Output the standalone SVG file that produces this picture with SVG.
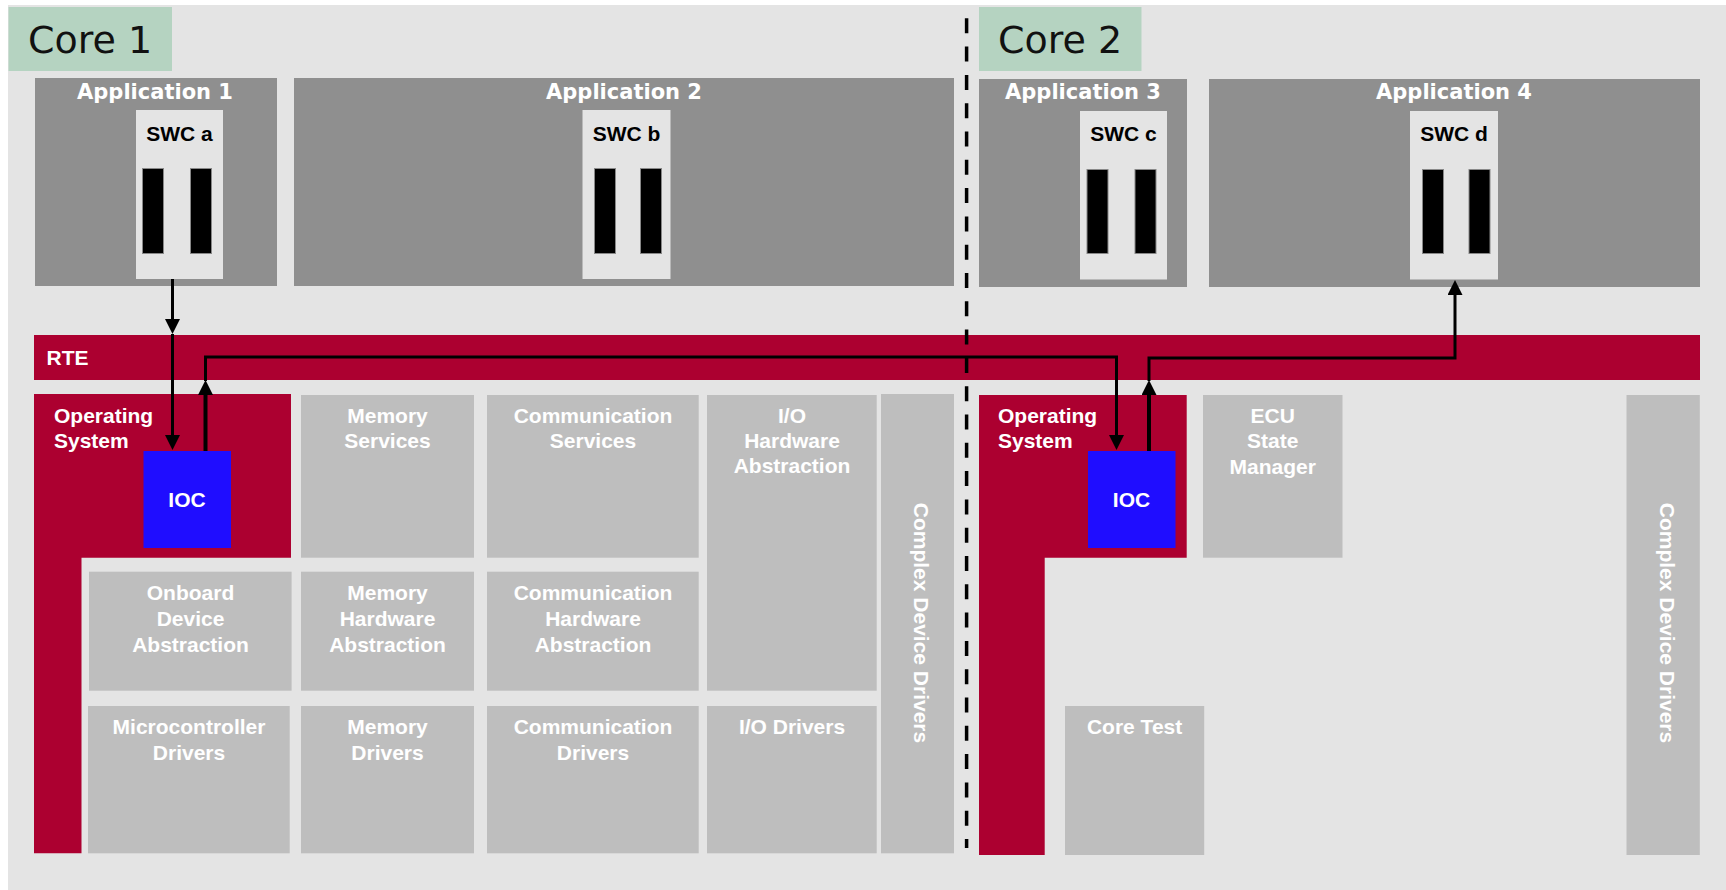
<svg xmlns="http://www.w3.org/2000/svg" width="1726" height="890" viewBox="0 0 1726 890">
<style>
.bg{fill:#e4e4e4}
.core{fill:#b5d3c1}
.coret{font-family:"DejaVu Sans",Verdana,sans-serif;font-size:38px;fill:#111}
.app{fill:#8f8f8f}
.appt{font-family:"DejaVu Sans",Verdana,sans-serif;font-weight:bold;font-size:21px;fill:#fff;text-anchor:middle}
.swc{fill:#e4e4e4}
.swct{font-family:"Liberation Sans",Arial,sans-serif;font-weight:bold;font-size:21px;fill:#000;text-anchor:middle}
.bar{fill:#000;stroke:#888;stroke-width:1}
.red{fill:#ac0030}
.mod{fill:#bebebe}
.lbl{font-family:"Liberation Sans",Arial,sans-serif;font-weight:bold;font-size:21px;fill:#fff;text-anchor:middle}
.lbll{font-family:"Liberation Sans",Arial,sans-serif;font-weight:bold;font-size:21px;fill:#fff}
.ioc{fill:#1f0dff}
.conn{fill:none;stroke:#000;stroke-width:3}
.thick{stroke-width:4}
</style>
<defs>
<marker id="arr" markerUnits="userSpaceOnUse" markerWidth="15" markerHeight="15" refX="5" refY="7.5" orient="auto">
<path d="M0,0 L15,7.5 L0,15 z" fill="#000"/>
</marker>
</defs>
<rect class="bg" x="8" y="5" width="1718" height="885"/>

<g id="core1-label"><rect class="core" x="8.5" y="7" width="163.5" height="64"/><text class="coret" x="28" y="53">Core 1</text></g>
<g id="core2-label"><rect class="core" x="979" y="7" width="162.5" height="64"/><text class="coret" x="998" y="53">Core 2</text></g>

<g id="app1"><rect class="app" x="35" y="78" width="242" height="208"/><text class="appt" x="155" y="99">Application 1</text></g>
<g id="app2"><rect class="app" x="294" y="78" width="660" height="208"/><text class="appt" x="624" y="99">Application 2</text></g>
<g id="app3"><rect class="app" x="979" y="79" width="208" height="208"/><text class="appt" x="1083" y="99">Application 3</text></g>
<g id="app4"><rect class="app" x="1209" y="79" width="491" height="208"/><text class="appt" x="1454" y="99">Application 4</text></g>

<g id="swc-a"><rect class="swc" x="136" y="110" width="87" height="169"/><text class="swct" x="179.5" y="141">SWC a</text><rect class="bar" x="142.5" y="168.5" width="21" height="85"/><rect class="bar" x="190.5" y="168.5" width="21" height="85"/></g>
<g id="swc-b"><rect class="swc" x="582.5" y="110" width="88" height="169"/><text class="swct" x="626.5" y="141">SWC b</text><rect class="bar" x="594.5" y="168.5" width="21" height="85"/><rect class="bar" x="640.5" y="168.5" width="21" height="85"/></g>
<g id="swc-c"><rect class="swc" x="1080" y="111" width="87" height="168.5"/><text class="swct" x="1123.5" y="141">SWC c</text><rect class="bar" x="1087" y="169.5" width="21" height="84"/><rect class="bar" x="1135" y="169.5" width="21" height="84"/></g>
<g id="swc-d"><rect class="swc" x="1410" y="111" width="88" height="168.5"/><text class="swct" x="1454" y="141">SWC d</text><rect class="bar" x="1422.5" y="169.5" width="21" height="84"/><rect class="bar" x="1469" y="169.5" width="21" height="84"/></g>

<g id="rte"><rect class="red" x="34" y="335" width="1666" height="45"/><text class="lbll" x="46.5" y="365" font-size="20">RTE</text></g>

<g id="os1"><path class="red" d="M34,394 H291 V557.7 H81.5 V853.3 H34 Z"/><text class="lbll" x="54" y="423.3">Operating</text><text class="lbll" x="54" y="448.3">System</text></g>
<g id="ioc1"><rect class="ioc" x="143.5" y="451" width="87.5" height="97"/><text class="lbl" x="187" y="507">IOC</text></g>

<g id="mem-services"><rect class="mod" x="301" y="395" width="173" height="162.7"/><text class="lbl" x="387.5" y="423.3">Memory</text><text class="lbl" x="387.5" y="448.3">Services</text></g>
<g id="com-services"><rect class="mod" x="487" y="395" width="211.7" height="162.7"/><text class="lbl" x="593" y="423.3">Communication</text><text class="lbl" x="593" y="448.3">Services</text></g>
<g id="io-hw-abs"><rect class="mod" x="707" y="395" width="169.7" height="295.7"/><text class="lbl" x="792" y="423.3">I/O</text><text class="lbl" x="792" y="448.3">Hardware</text><text class="lbl" x="792" y="473.3">Abstraction</text></g>
<g id="cdd1"><rect class="mod" x="881" y="394" width="73" height="459.3"/><text class="lbl" transform="translate(921,623) rotate(90)" x="0" y="7.5">Complex Device Drivers</text></g>

<g id="onboard-abs"><rect class="mod" x="89" y="571.7" width="202.6" height="119"/><text class="lbl" x="190.5" y="600">Onboard</text><text class="lbl" x="190.5" y="625.7">Device</text><text class="lbl" x="190.5" y="651.5">Abstraction</text></g>
<g id="mem-hw-abs"><rect class="mod" x="301" y="571.7" width="173" height="119"/><text class="lbl" x="387.5" y="600">Memory</text><text class="lbl" x="387.5" y="625.7">Hardware</text><text class="lbl" x="387.5" y="651.5">Abstraction</text></g>
<g id="com-hw-abs"><rect class="mod" x="487" y="571.7" width="211.7" height="119"/><text class="lbl" x="593" y="600">Communication</text><text class="lbl" x="593" y="625.7">Hardware</text><text class="lbl" x="593" y="651.5">Abstraction</text></g>

<g id="mcu-drv"><rect class="mod" x="88" y="706" width="201.7" height="147.3"/><text class="lbl" x="189" y="734">Microcontroller</text><text class="lbl" x="189" y="760">Drivers</text></g>
<g id="mem-drv"><rect class="mod" x="301" y="706" width="173" height="147.3"/><text class="lbl" x="387.5" y="734">Memory</text><text class="lbl" x="387.5" y="760">Drivers</text></g>
<g id="com-drv"><rect class="mod" x="487" y="706" width="211.7" height="147.3"/><text class="lbl" x="593" y="734">Communication</text><text class="lbl" x="593" y="760">Drivers</text></g>
<g id="io-drv"><rect class="mod" x="707" y="706" width="169.7" height="147.3"/><text class="lbl" x="792" y="734">I/O Drivers</text></g>

<g id="os2"><path class="red" d="M979,395 H1186.7 V557.7 H1044.7 V855 H979 Z"/><text class="lbll" x="998" y="423.3">Operating</text><text class="lbll" x="998" y="448.3">System</text></g>
<g id="ioc2"><rect class="ioc" x="1088" y="451" width="87.5" height="97"/><text class="lbl" x="1131.5" y="507">IOC</text></g>
<g id="ecu-sm"><rect class="mod" x="1203" y="395" width="139.5" height="162.7"/><text class="lbl" x="1272.7" y="423.3">ECU</text><text class="lbl" x="1272.7" y="448.3">State</text><text class="lbl" x="1272.7" y="473.5">Manager</text></g>
<g id="core-test"><rect class="mod" x="1065" y="706" width="139.2" height="149"/><text class="lbl" x="1134.6" y="734">Core Test</text></g>
<g id="cdd2"><rect class="mod" x="1626.5" y="395" width="73.3" height="460"/><text class="lbl" transform="translate(1667,623) rotate(90)" x="0" y="7.5">Complex Device Drivers</text></g>

<g id="connectors">
<line x1="966.6" y1="18.3" x2="966.6" y2="848" stroke="#000" stroke-width="3.5" stroke-dasharray="15 13.3"/>
<line class="conn" x1="172.5" y1="279" x2="172.5" y2="324" marker-end="url(#arr)"/>
<line class="conn" x1="172.5" y1="334" x2="172.5" y2="440" marker-end="url(#arr)"/>
<line class="conn thick" x1="205.5" y1="451" x2="205.5" y2="390" marker-end="url(#arr)"/>
<path class="conn" d="M205.5,381 V357 H1116.5 V440" marker-end="url(#arr)"/>
<line class="conn thick" x1="1149" y1="451" x2="1149" y2="390" marker-end="url(#arr)"/>
<path class="conn" d="M1149,381 V358 H1455 V290" marker-end="url(#arr)"/>
</g>
</svg>
